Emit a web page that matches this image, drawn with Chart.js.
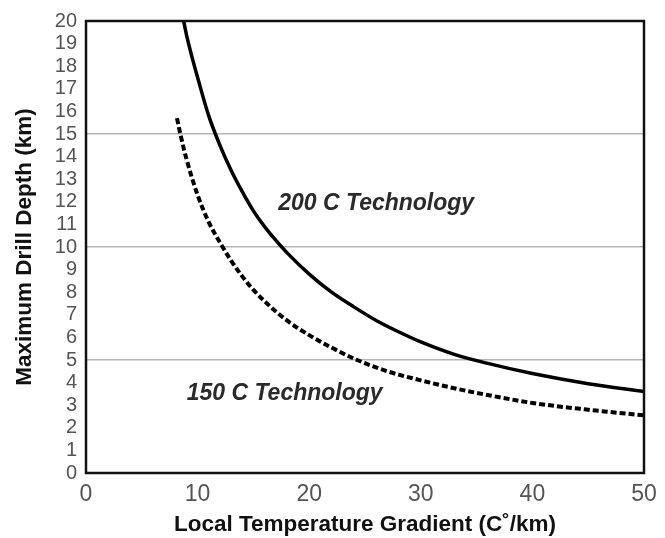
<!DOCTYPE html>
<html>
<head>
<meta charset="utf-8">
<script src="https://cdn.jsdelivr.net/npm/chart.js@4/dist/chart.umd.min.js"></script>
<style>
  html, body { margin: 0; padding: 0; background: #ffffff; }
  #wrap { width: 665px; height: 538px; position: relative; }
</style>
</head>
<body>
<div id="wrap"><canvas id="c" width="665" height="538"></canvas></div>
<script>
// ---- Data ----
const grad200  = [8.75, 9, 9.5, 10, 11, 12, 13, 14, 15, 16, 17, 18, 20, 22, 24, 26, 28, 30, 33, 36, 40, 45, 50];
const depth200 = [20, 19.4, 18.4, 17.5, 15.8, 14.5, 13.4, 12.45, 11.6, 10.9, 10.3, 9.75, 8.8, 8.0, 7.35, 6.75, 6.25, 5.8, 5.25, 4.85, 4.4, 3.95, 3.6];

const grad150  = [8.15, 8.5, 9, 10, 11, 12, 13, 14, 15, 16, 18, 20, 22, 24.3, 27, 30, 33, 36, 40, 45, 50];
const depth150 = [15.7, 14.9, 13.9, 12.3, 11.1, 10.2, 9.4, 8.7, 8.1, 7.6, 6.75, 6.1, 5.55, 5.0, 4.5, 4.1, 3.75, 3.45, 3.1, 2.8, 2.55];

const xTicks = [0, 10, 20, 30, 40, 50];
const yTicks = [0,1,2,3,4,5,6,7,8,9,10,11,12,13,14,15,16,17,18,19,20];
const gridValues = [5, 10, 15];

const seriesLabels = ['200 C Technology', '150 C Technology'];
const annotX = [26, 17.8];
const annotY = [11.92, 3.53];

const xTitle = 'Local Temperature Gradient (C\u02DA/km)';
const yTitle = 'Maximum Drill Depth (km)';

function pts(xs, ys) { return xs.map((x, i) => ({ x: x, y: ys[i] })); }

const frameAndText = {
  id: 'frameAndText',
  afterDatasetsDraw(chart) {
    const ctx = chart.ctx;
    const a = chart.chartArea;
    const xs = chart.scales.x, ys = chart.scales.y;
    ctx.save();
    ctx.strokeStyle = '#111';
    ctx.lineWidth = 2.5;
    ctx.strokeRect(a.left, a.top, a.right - a.left, a.bottom - a.top);
    ctx.fillStyle = '#2a2a2a';
    ctx.font = 'italic bold 23px "Liberation Sans", Arial, sans-serif';
    ctx.textAlign = 'center';
    ctx.textBaseline = 'middle';
    for (let i = 0; i < seriesLabels.length; i++) {
      ctx.fillText(seriesLabels[i], xs.getPixelForValue(annotX[i]), ys.getPixelForValue(annotY[i]));
    }
    ctx.restore();
  }
};

new Chart(document.getElementById('c'), {
  type: 'line',
  data: {
    datasets: [
      {
        label: seriesLabels[0],
        data: pts(grad200, depth200),
        borderColor: '#000',
        borderWidth: 3.5,
        pointRadius: 0,
        fill: false,
        cubicInterpolationMode: 'monotone'
      },
      {
        label: seriesLabels[1],
        data: pts(grad150, depth150),
        borderColor: '#000',
        borderWidth: 4,
        borderDash: [6, 3],
        pointRadius: 0,
        fill: false,
        cubicInterpolationMode: 'monotone'
      }
    ]
  },
  options: {
    responsive: false,
    animation: false,
    devicePixelRatio: 1,
    layout: { padding: { left: 0, top: 20, right: 21, bottom: 0 } },
    plugins: { legend: { display: false }, tooltip: { enabled: false } },
    scales: {
      x: {
        type: 'linear',
        min: 0, max: 50,
        afterBuildTicks(s) { s.ticks = xTicks.map(v => ({ value: v })); },
        afterFit(s) { s.height = 65; },
        grid: { display: false, drawTicks: false },
        border: { display: false },
        ticks: {
          color: '#555',
          autoSkip: false,
          font: { family: '"Liberation Sans", Arial, sans-serif', size: 23 },
          padding: 8,
          maxRotation: 0
        },
        title: {
          display: true,
          text: xTitle,
          color: '#111',
          font: { family: '"Liberation Sans", Arial, sans-serif', size: 22.5, weight: 'bold' },
          padding: { top: 0, bottom: 0 }
        }
      },
      y: {
        type: 'linear',
        min: 0, max: 20,
        afterBuildTicks(s) { s.ticks = yTicks.map(v => ({ value: v })); },
        afterFit(s) { s.width = 86; },
        grid: {
          drawTicks: false,
          color: ctx => gridValues.includes(ctx.tick.value) ? '#b4b4b4' : 'rgba(0,0,0,0)',
          lineWidth: 1.5
        },
        border: { display: false },
        ticks: {
          color: '#555',
          autoSkip: false,
          font: { family: '"Liberation Sans", Arial, sans-serif', size: 20 },
          padding: 9
        },
        title: {
          display: true,
          text: yTitle,
          color: '#111',
          font: { family: '"Liberation Sans", Arial, sans-serif', size: 22.5, weight: 'bold' },
          padding: { top: 11, bottom: 0 }
        }
      }
    }
  },
  plugins: [frameAndText]
});
</script>
</body>
</html>
